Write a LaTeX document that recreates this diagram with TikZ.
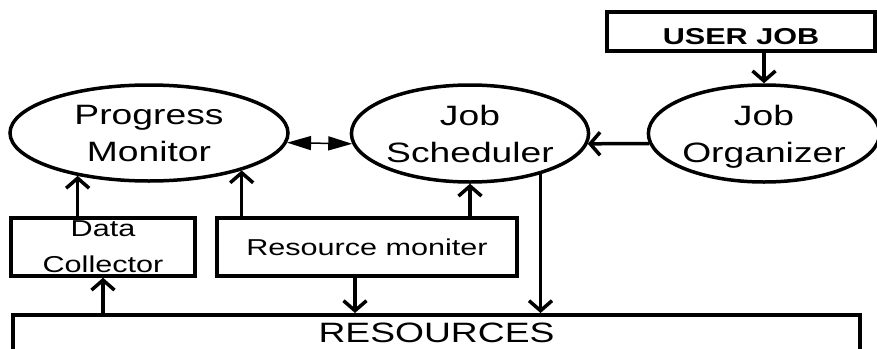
\documentclass[tikz,border=0pt]{standalone}
\usepackage{fontspec}
\setmainfont{Liberation Sans}[FakeStretch=1.33]
\usetikzlibrary{shapes.geometric, arrows.meta}
\tikzstyle{oval} = [ellipse, draw, line width=3.5pt, inner sep=0pt, text depth=0pt, align=center, font=\fontsize{28}{37}\selectfont]
\tikzstyle{unit} = [rectangle, draw, line width=3.5pt, inner sep=0pt, minimum height=58pt, align=center, font=\fontsize{23}{36}\selectfont]
\tikzstyle{arrow} = [line width=3.5pt, ->, >={Straight Barb[length=10pt, width=23pt]}]
\tikzstyle{dblarrow} = [line width=1.5pt, <->, >={Triangle[length=24pt, width=14pt]}]

\begin{document}
\begin{tikzpicture}[x=1pt, y=-1pt]
    \useasboundingbox (0,0) rectangle (877,348);
    \node [oval, minimum width=278pt, minimum height=96pt] at (149,133) (pm) {Progress\\Monitor};
    \node [oval, minimum width=230pt, minimum height=97pt] at (470,133.5) (js) {Job\\Scheduler};
    \node [oval, minimum width=222pt, minimum height=97pt] at (764,133.5) (jo) {Job\\Organizer};
    \node [unit, minimum width=268pt, minimum height=0pt, text height=33pt, text depth=6pt, anchor=north, font=\fontsize{23}{28}\selectfont\bfseries] at (741,10) (uj) {USER JOB};
    \node [unit, minimum width=184pt] at (103,247) (dc) {Data\\Collector};
    \node [unit, minimum width=300pt] at (367,247) (rm) {Resource moniter};
    \node [unit, minimum width=847pt, text height=27pt, text depth=30pt, anchor=north, font=\fontsize{28}{34}\selectfont] at (436.5,313) (res) {RESOURCES};
    \draw [arrow] (uj.south -| jo.north) -- (jo.north);
    \draw [arrow] (jo.185) -- (js.355);
    \draw [dblarrow] (pm.356) -- (js.185);
    \draw [arrow] (pm.211 |- dc.north) -- (pm.211);
    \draw [arrow] (pm.338 |- rm.north) -- (pm.338);
    \draw [arrow] (js.south |- rm.north) -- (js.south);
    \draw [arrow] (js.330) -- (js.330 |- res.north);
    \draw [arrow] ([xshift=-12pt]rm.south) -- ([xshift=-12pt]rm.south |- res.north);
    \draw [arrow] (dc.south |- res.north) -- (dc.south);
\end{tikzpicture}
\end{document}
